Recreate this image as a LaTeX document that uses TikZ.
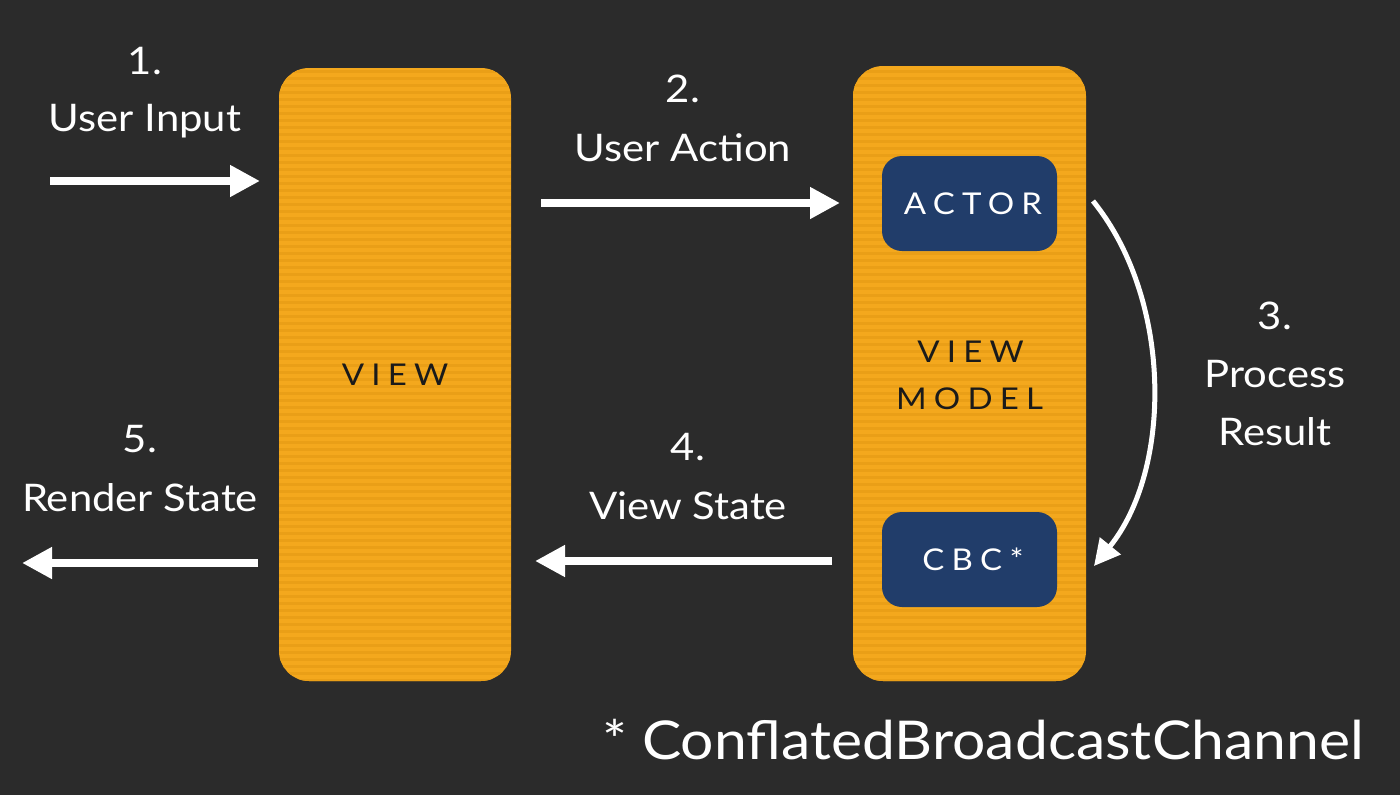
\documentclass[tikz,border=0pt]{standalone}
\usepackage{fontspec}
\setmainfont{Lato}[FakeStretch=1.1]
\newfontfamily\spacedfont{Lato}[LetterSpace=24,FakeStretch=1.1]
\usetikzlibrary{arrows.meta}
\definecolor{bg}{HTML}{2B2B2B}
\definecolor{orng}{HTML}{F4A81D}
\definecolor{orngdark}{HTML}{EA9F17}
\definecolor{navy}{HTML}{213D6A}
\definecolor{ink}{HTML}{1A1A1A}
\tikzset{
  panel/.style={fill=orng, rounded corners=30pt},
  inner/.style={fill=navy, rounded corners=20pt, minimum width=175pt, minimum height=95pt, inner sep=0pt,
                text=white, font=\spacedfont\fontsize{30}{36}\selectfont},
  lbl/.style={text=white, font=\fontsize{38}{42}\selectfont, anchor=base, inner sep=0pt},
  boxlbl/.style={text=ink, font=\spacedfont\fontsize{30}{36}\selectfont, anchor=base, inner sep=0pt},
  flow/.style={draw=white, line width=8pt, -{Triangle[length=30pt,width=30pt]}},
  curveflow/.style={draw=white, line width=5pt, -{Triangle[length=26pt,width=26pt]}},
}
\begin{document}
\begin{tikzpicture}[x=1pt,y=-1pt]
\fill[bg] (0,0) rectangle (1400,795);
\useasboundingbox (0,0) rectangle (1400,795);
% panels
\path[panel] (279,68) rectangle (511,681);
\path[panel] (853,66) rectangle (1086,681);
\begin{scope}
  \clip[rounded corners=30pt] (279,68) rectangle (511,681);
  \foreach \y in {70,77,...,680} \fill[orngdark] (279,\y) rectangle (511,\y+3);
\end{scope}
\begin{scope}
  \clip[rounded corners=30pt] (853,66) rectangle (1086,681);
  \foreach \y in {70,77,...,680} \fill[orngdark] (853,\y) rectangle (1086,\y+3);
\end{scope}
\node (viewpanel) at (395,374.5) [minimum width=232pt, minimum height=613pt, inner sep=0pt] {};
\node (vmpanel) at (969.5,373.5) [minimum width=233pt, minimum height=615pt, inner sep=0pt] {};
\node[boxlbl] (viewlbl) at (395,385) {VIEW};
\node[boxlbl] (vmlbl1) at (970.5,362) {VIEW};
\node[boxlbl] (vmlbl2) at (969.5,409) {MODEL};
% inner boxes
\node[inner, text depth=0pt] (actor) at (969.5,203.5) {\hspace*{7pt}ACTOR};
\node[inner, text depth=0pt] (cbc) at (969.5,559.5) {\hspace*{7pt}CBC*};
% coordinates
\coordinate (in0) at (50,181);
\coordinate (in1) at (260,181);
\coordinate (a0) at (541,203);
\coordinate (a1) at (840,203);
\coordinate (s0) at (832,561);
\coordinate (s1) at (535,561);
\coordinate (r0) at (258,563);
\coordinate (r1) at (22,563);
\coordinate (c0) at (1093,201);
\coordinate (c1) at (1094,566);
% arrows
\draw[flow] (in0) -- (in1);
\draw[flow] (a0) -- (a1);
\draw[flow] (s0) -- (s1);
\draw[flow] (r0) -- (r1);
\draw[curveflow] (c0) .. controls (1173,300) and (1172,470) .. (c1);
% labels
\node[lbl] (l1a) at (145,74) {1.};
\node[lbl] (l1b) at (145,131) {User Input};
\node[lbl] (l2a) at (683,102) {2.};
\node[lbl] (l2b) at (683,161) {User Action};
\node[lbl] (l3a) at (1275,329) {3.};
\node[lbl] (l3b) at (1275,387) {Process};
\node[lbl] (l3c) at (1275,445) {Result};
\node[lbl] (l4a) at (688,460) {4.};
\node[lbl] (l4b) at (688,519) {View State};
\node[lbl] (l5a) at (140,452) {5.};
\node[lbl] (l5b) at (140,511) {Render State};
\node[lbl, font=\fontsize{53.5}{58}\selectfont] (foot) at (983,759) {* ConflatedBroadcastChannel};
\end{tikzpicture}
\end{document}
